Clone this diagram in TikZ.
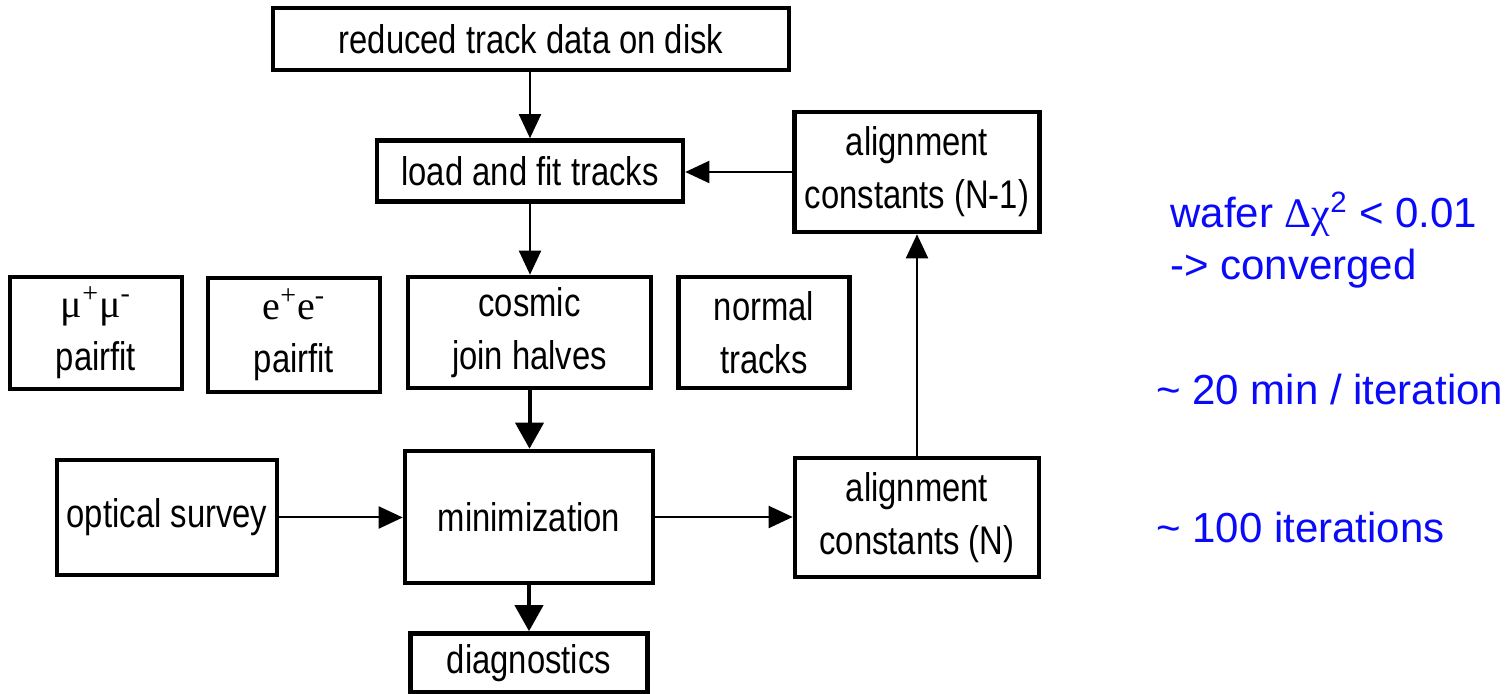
\documentclass[tikz,border=0pt]{standalone}
\usepackage{fontspec}
\setmainfont{Liberation Sans}
\newfontfamily\narrowfont[FakeStretch=0.82]{Liberation Sans}
\newfontfamily\gkfont{Liberation Serif}
\usetikzlibrary{arrows.meta}
\definecolor{bluetext}{RGB}{10,10,250}
\tikzset{
  box/.style={draw, line width=2.3pt, inner sep=0pt, align=center,
    font=\narrowfont\fontsize{20}{26.5}\selectfont},
  thinarrow/.style={line width=1pt, -{Triangle[length=12pt,width=11pt]}},
  thickarrow/.style={line width=2pt, -{Triangle[length=13pt,width=14pt]}},
  note/.style={anchor=base west, inner sep=0pt, text=bluetext,
    font=\fontsize{21}{25}\selectfont}
}
\begin{document}
\begin{tikzpicture}[x=0.5pt,y=-0.5pt]
\useasboundingbox (0,0) rectangle (1512,694);
% boxes
\node[box, minimum width=258pt, minimum height=31pt] (disk) at (531,39) {reduced track data on disk};
\node[box, minimum width=153pt, minimum height=30.5pt] (load) at (530,171) {load and fit tracks};
\node[box, minimum width=122.5pt, minimum height=60pt] (anm1) at (917,172) {alignment\\constants (N-1)};
\node[box, minimum width=86pt, minimum height=56pt] (mumu) at (96,333) {{\gkfont μ\textsuperscript{+}μ\textsuperscript{-}}\\pairfit};
\node[box, minimum width=86pt, minimum height=57pt] (ee) at (294,335) {{\gkfont e\textsuperscript{+}e\textsuperscript{-}}\\pairfit};
\node[box, minimum width=121.5pt, minimum height=55.5pt] (cosmic) at (529.5,332.5) {cosmic\\join halves};
\node[box, minimum width=85.5pt, minimum height=55.5pt] (normal) at (764,332.5) {normal\\tracks};
\node[box, minimum width=110pt, minimum height=57.5pt] (optical) at (167,517.5) {optical survey};
\node[box, minimum width=124pt, minimum height=66pt] (mini) at (529,517) {minimization};
\node[box, minimum width=122pt, minimum height=59.5pt] (anN) at (917,517.5) {alignment\\constants (N)};
\node[box, minimum width=118.5pt, minimum height=29.5pt] (diag) at (529,663) {diagnostics};
% connectors
\draw[thinarrow] (load.north |- disk.south) -- (load.north);
\draw[thinarrow] (load.south) -- (cosmic.north -| load.south);
\draw[thickarrow] (cosmic.south) -- (mini.north -| cosmic.south);
\draw[thinarrow] (optical.east) -- (mini.west |- optical.east);
\draw[thinarrow] (mini.east) -- (anN.west |- mini.east);
\draw[thinarrow] (anN.north) -- (anm1.south);
\draw[thinarrow] (anm1.west) -- (load.east |- anm1.west);
\draw[thickarrow] (mini.south) -- (diag.north);
% notes
\node[note] (n1) at (1170,228) {wafer {\gkfont Δχ}\textsuperscript{2} < 0.01};
\node[note] (n2) at (1170,280) {-> converged};
\node[note] (n3) at (1156,405) {\textasciitilde\ 20 min / iteration};
\node[note] (n4) at (1156,543) {\textasciitilde\ 100 iterations};
\end{tikzpicture}
\end{document}
